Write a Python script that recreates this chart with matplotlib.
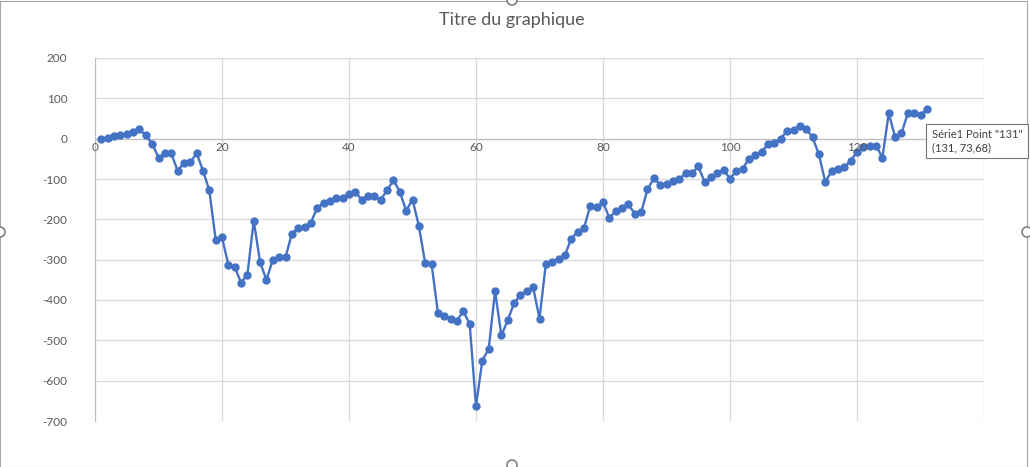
import matplotlib.pyplot as plt
from matplotlib.patches import Circle, Rectangle

# values (x = 1..131)
y_values = [
    0, 2.5, 7, 10, 12, 17, 23, 8, -12, -47,
    -36, -36, -79, -61, -59, -36, -79, -128, -250, -245,
    -312, -318, -357, -337, -203, -307, -350, -300, -294, -294,
    -236, -221, -218, -208, -171, -159, -155, -146, -148, -136,
    -133, -151, -141, -142, -151, -128, -103, -131, -179, -151,
    -216, -309, -310, -431, -439, -446, -451, -428, -459, -663,
    -550, -521, -378, -488, -450, -408, -387, -378, -369, -446,
    -310, -305, -298, -289, -248, -231, -222, -166, -169, -158,
    -196, -180, -173, -163, -186, -183, -126, -98, -114, -112,
    -106, -101, -86, -86, -69, -107, -96, -85, -77, -99,
    -80, -74, -50, -40, -33, -13, -10, 0, 20, 22,
    31, 25, 3, -39, -107, -81, -76, -71, -55, -33,
    -20, -19, -17, -47, 63, 4, 13, 63, 63, 58,
    73.68,
]
x_values = list(range(1, len(y_values) + 1))
x_grid = [0, 20, 40, 60, 80, 100, 120, 140]
x_labels = [0, 20, 40, 60, 80, 100, 120]  # 140 is hidden under the tooltip
y_ticks = [200, 100, 0, -100, -200, -300, -400, -500, -600, -700]

title = "Titre du graphique"
tooltip = 'Série1 Point "131"\n(131, 73,68)'

plt.rcParams['font.family'] = ['Lato', 'DejaVu Sans']
plt.rcParams['axes.unicode_minus'] = False
grey = '#595959'
grid = '#d9d9d9'

fig = plt.figure(figsize=(10.3, 4.67), dpi=100)
ax = fig.add_axes([95 / 1030, 1 - 421 / 467, 889 / 1030, 363 / 467])

ax.plot(x_values, y_values, color='#4472C4', linewidth=1.7,
        marker='o', markersize=5, zorder=3)

ax.set_xlim(0, 140)
ax.set_ylim(-700, 200)
ax.set_yticks(y_ticks)
ax.set_xticks(x_grid)
ax.grid(True, color=grid, linewidth=0.9)
ax.set_axisbelow(True)
for side in ['top', 'right', 'bottom']:
    ax.spines[side].set_visible(False)
ax.spines['left'].set_color('#bfbfbf')
ax.tick_params(axis='both', length=0, labelsize=8.5, labelcolor=grey)
ax.tick_params(axis='y', pad=20)
ax.set_xticklabels([])
ax.axhline(0, color='#bfbfbf', linewidth=0.9, zorder=1)
# x labels sit just under the zero line and are drawn over the series
for t in x_labels:
    ax.text(t, -22, str(t), ha='center', va='center', fontsize=8.5,
            color=grey, zorder=4)

fig.text(512 / 1030, 1 - 20 / 467, title, ha='center', va='center',
         fontsize=13, color=grey)

# tooltip box
fig.patches.append(Rectangle((926 / 1030, 1 - 158 / 467), 102 / 1030, 34 / 467,
                             transform=fig.transFigure, facecolor='white',
                             edgecolor='#767676', linewidth=0.8, zorder=10))
fig.text(932 / 1030, 1 - 141 / 467, tooltip, ha='left', va='center',
         fontsize=8, color='#404040', linespacing=1.3, zorder=11)

# chart frame and selection handles
fig.patches.append(Rectangle((0, 0.5 / 467), 1027 / 1030, 466 / 467,
                             transform=fig.transFigure, fill=False,
                             edgecolor='#a6a6a6', linewidth=0.8))
for hx, hy in [(0, 232), (512, 0), (1027, 232), (512, 465)]:
    fig.patches.append(Circle((hx, 467 - hy), 5, transform=None,
                              facecolor='white', edgecolor='#808080',
                              linewidth=1.2, zorder=12))

fig.savefig('out.png', dpi=100)
